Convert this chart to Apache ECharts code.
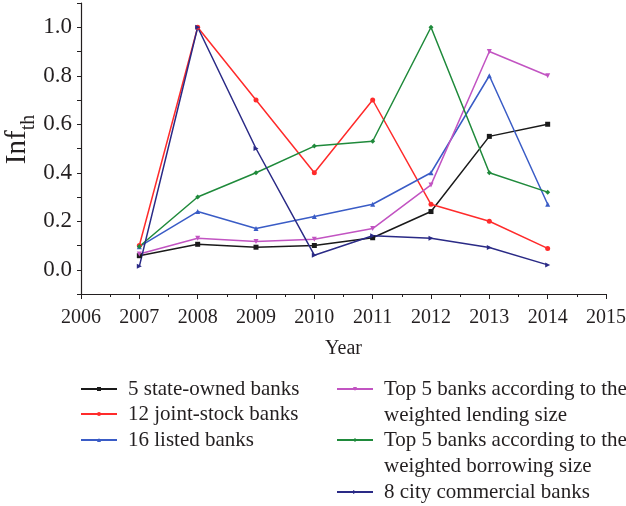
<!DOCTYPE html>
<html>
<head>
<meta charset="utf-8">
<script src="https://cdn.jsdelivr.net/npm/echarts@6/dist/echarts.min.js"></script>
<style>
  html, body { margin: 0; padding: 0; background: #ffffff; }
  #chart { width: 626px; height: 506px; }
</style>
</head>
<body>
<div id="chart"></div>
<script>
// Years observed
const years = [2007, 2008, 2009, 2010, 2011, 2012, 2013, 2014];

// Inf_th per bank group
const stateOwned      = [0.058, 0.105, 0.093, 0.100, 0.132, 0.240, 0.550, 0.600];
const jointStock      = [0.100, 1.000, 0.700, 0.400, 0.700, 0.270, 0.200, 0.088];
const listedBanks     = [0.095, 0.240, 0.170, 0.220, 0.270, 0.400, 0.800, 0.270];
const topLending      = [0.065, 0.130, 0.117, 0.126, 0.170, 0.350, 0.900, 0.800];
const topBorrowing    = [0.096, 0.300, 0.400, 0.510, 0.530, 1.000, 0.400, 0.320];
const cityCommercial  = [0.014, 1.000, 0.500, 0.060, 0.140, 0.130, 0.092, 0.020];

// Series names (legend text)
const names = [
  '5 state-owned banks',
  '12 joint-stock banks',
  '16 listed banks',
  'Top 5 banks according to the\nweighted lending size',
  'Top 5 banks according to the\nweighted borrowing size',
  '8 city commercial banks'
];

// Axis tick labels
const xTickLabels = ['2006', '2007', '2008', '2009', '2010', '2011', '2012', '2013', '2014', '2015'];
const yTickLabels = ['0.0', '0.2', '0.4', '0.6', '0.8', '1.0'];

const values = [stateOwned, jointStock, listedBanks, topLending, topBorrowing, cityCommercial];
const colors = ['#1a1a1a', '#ff2b2b', '#3a5cc6', '#c254c2', '#1f8a3b', '#2a2a86'];
const symbols = ['rect', 'circle', 'triangle', 'triangle', 'diamond', 'triangle'];
const symbolRotates = [0, 0, 0, 180, 0, -90];

const serif = '"Liberation Serif", "DejaVu Serif", serif';

const series = values.map((vals, i) => ({
  name: names[i],
  type: 'line',
  data: years.map((y, k) => [y, vals[k]]),
  symbol: symbols[i],
  symbolRotate: symbolRotates[i],
  symbolSize: 5,
  showSymbol: true,
  lineStyle: { color: colors[i], width: 1.5 },
  itemStyle: { color: colors[i] },
  emphasis: { disabled: true },
  animation: false
}));

// one legend per entry so each row sits at its own place;
// two-line entries get blank lines around them so the icon lines up with the first line
const legendPos = [
  { left: 80,  top: 376, two: false },
  { left: 80,  top: 401, two: false },
  { left: 80,  top: 427, two: false },
  { left: 336, top: 324, two: true },
  { left: 336, top: 375, two: true },
  { left: 336, top: 479, two: false }
];
const legends = names.map((n, i) => ({
  data: [n],
  left: legendPos[i].left,
  top: legendPos[i].top,
  padding: 0,
  itemWidth: 36,
  itemHeight: 5,
  selectedMode: false,
  formatter: name => legendPos[i].two ? '\n\n' + name + '\n' : name,
  textStyle: {
    fontFamily: serif,
    fontSize: 21,
    color: '#231f20',
    lineHeight: 26,
    padding: [0, 0, 0, 6]
  }
}));

const chart = echarts.init(document.getElementById('chart'), null, { renderer: 'canvas' });
chart.setOption({
  backgroundColor: '#ffffff',
  animation: false,
  legend: legends,
  grid: { left: 81, right: 20, top: 3, bottom: 212, containLabel: false, outerBoundsMode: 'none' },
  xAxis: {
    type: 'value',
    min: 2006,
    max: 2015,
    interval: 1,
    name: 'Year',
    nameLocation: 'middle',
    nameGap: 45,
    nameMoveOverlap: false,
    nameTextStyle: { fontFamily: serif, fontSize: 20, color: '#231f20' },
    axisLine: { show: true, onZero: false, lineStyle: { color: '#231f20', width: 1.2 } },
    axisTick: { show: true, length: 5, lineStyle: { color: '#231f20' } },
    minorTick: { show: true, splitNumber: 2, length: 3, lineStyle: { color: '#231f20' } },
    splitLine: { show: false },
    axisLabel: {
      fontFamily: serif, fontSize: 20, color: '#231f20', margin: 14,
      formatter: v => xTickLabels[Math.round(v) - 2006] || ''
    }
  },
  yAxis: {
    type: 'value',
    min: -0.1,
    max: 1.1,
    interval: 0.1,
    name: '{a|Inf}{b|th}',
    nameLocation: 'middle',
    nameGap: 42,
    nameMoveOverlap: false,
    nameTextStyle: {
      rich: {
        a: { fontFamily: serif, fontSize: 29, color: '#231f20', lineHeight: 36, verticalAlign: 'top', padding: [0, 0, 0, 18] },
        b: { fontFamily: serif, fontSize: 20, color: '#231f20', lineHeight: 15, verticalAlign: 'bottom' }
      }
    },
    axisLine: { show: true, onZero: false, lineStyle: { color: '#231f20', width: 1.2 } },
    axisTick: { show: true, length: 4, lineStyle: { color: '#231f20' } },
    splitLine: { show: false },
    axisLabel: {
      fontFamily: serif, fontSize: 23, color: '#231f20', margin: 9,
      formatter: v => {
        const k = Math.round(v * 10);
        if (k < 0 || k % 2 !== 0) return '';
        return yTickLabels[k / 2] || '';
      }
    }
  },
  series: series
});
</script>
</body>
</html>
